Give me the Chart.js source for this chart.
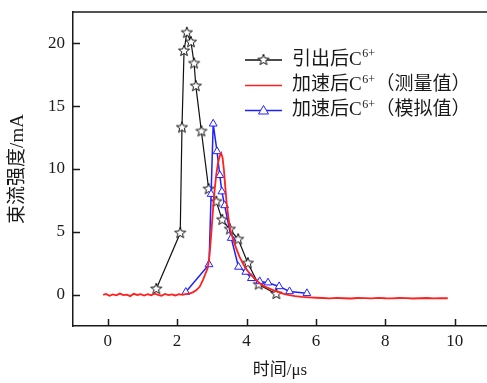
<!DOCTYPE html>
<html>
<head>
<meta charset="utf-8">
<script src="https://cdn.jsdelivr.net/npm/chart.js@4"></script>
<style>
html, body { margin: 0; padding: 0; background: #fff; }
canvas { display: block; }
</style>
</head>
<body>
<canvas id="chart" width="487" height="383"></canvas>
<script>
// 引出后C6+ (stars)
const extractT = [1.40, 2.09, 2.14, 2.20, 2.28, 2.40, 2.49, 2.54, 2.70, 2.91, 3.13, 3.30, 3.52, 3.76, 4.04, 4.35, 4.86];
const extractV = [0.45, 4.9, 13.3, 19.4, 20.85, 20.1, 18.4, 16.6, 13.0, 8.4, 7.4, 5.95, 5.2, 4.4, 2.5, 0.8, 0.05];

// 加速后C6+ 测量值 (red line)
const measT = [-0.13, -0.05, 0.05, 0.15, 0.25, 0.35, 0.45, 0.55, 0.65, 0.75, 0.85, 0.95, 1.05, 1.15, 1.25, 1.35, 1.45, 1.55, 1.65, 1.75, 1.85, 1.95, 2.05, 2.15,
  2.25, 2.35, 2.45, 2.55, 2.65, 2.75, 2.82, 2.88, 2.93, 2.98, 3.03, 3.08, 3.13, 3.18, 3.23, 3.27, 3.31, 3.35, 3.39, 3.43, 3.48, 3.53, 3.60, 3.70, 3.80, 3.90, 4.00,
  4.15, 4.30, 4.45, 4.60, 4.75, 4.90, 5.05, 5.20, 5.40, 5.60, 5.80, 6.00,
  6.2, 6.4, 6.6, 6.8, 7.0, 7.2, 7.4, 7.6, 7.8, 8.0, 8.2, 8.4, 8.6, 8.8, 9.0, 9.2, 9.4, 9.6, 9.8];
const measV = [-0.02, 0.05, -0.10, 0.02, -0.06, 0.08, -0.04, 0.00, -0.12, 0.06, -0.03, 0.04, -0.08, 0.03, -0.05, 0.07, -0.02, -0.09, 0.05, -0.04, 0.02, -0.07, 0.04, -0.02,
  0.03, 0.08, 0.18, 0.35, 0.62, 1.2, 1.7, 2.1, 3.0, 4.7, 6.6, 8.3, 9.6, 10.5, 11.05, 11.25, 10.9, 9.9, 8.5, 7.2, 6.1, 5.2, 4.5, 3.7, 3.0, 2.45, 2.0,
  1.5, 1.1, 0.75, 0.55, 0.38, 0.22, 0.08, -0.02, -0.12, -0.18, -0.22, -0.25,
  -0.27, -0.30, -0.26, -0.29, -0.31, -0.27, -0.28, -0.30, -0.26, -0.29, -0.30, -0.27, -0.28, -0.31, -0.29, -0.27, -0.30, -0.28, -0.29];

// 加速后C6+ 模拟值 (blue triangles)
const simT = [2.25, 2.92, 2.98, 3.04, 3.15, 3.23, 3.29, 3.37, 3.56, 3.77, 3.98, 4.14, 4.38, 4.62, 4.94, 5.24, 5.74];
const simV = [0.2, 2.4, 8.0, 13.6, 11.4, 9.5, 8.2, 7.1, 4.5, 2.2, 1.8, 1.3, 1.05, 0.95, 0.65, 0.25, 0.1];

const xTicks = [0, 2, 4, 6, 8, 10];
const yTicks = [0, 5, 10, 15, 20];

const FONT = '"Liberation Serif", "Noto Sans CJK SC", serif';
const INK = '#1a1a1a';
const RED = '#ff2020';
const BLUE = '#2020ff';

function pts(xs, ys) {
    return xs.map((x, i) => ({ x: x, y: ys[i] }));
}

function makeStar(r) {
    const c = document.createElement('canvas');
    const s = Math.ceil(r * 2 + 4);
    c.width = c.height = s;
    const g = c.getContext('2d');
    g.beginPath();
    for (let i = 0; i < 10; i++) {
        const a = -Math.PI / 2 + i * Math.PI / 5;
        const rr = i % 2 === 0 ? r : r * 0.42;
        g.lineTo(s / 2 + rr * Math.cos(a), s / 2 + rr * Math.sin(a));
    }
    g.closePath();
    g.fillStyle = '#fff';
    g.fill();
    g.strokeStyle = '#111';
    g.lineWidth = 1;
    g.stroke();
    return c;
}
const starImg = makeStar(5.8);

function noPad(s) {
    s.paddingTop = 0;
    s.paddingBottom = 0;
    s.paddingLeft = 0;
    s.paddingRight = 0;
}

// inward ticks, top frame line and the legend inside the plot
const decor = {
    id: 'decor',
    afterDraw(chart) {
        const ctx = chart.ctx;
        const { left, right, top, bottom } = chart.chartArea;
        const xs = chart.scales.x, ys = chart.scales.y;
        ctx.save();
        ctx.strokeStyle = INK;
        ctx.lineWidth = 1.5;
        ctx.beginPath();
        ctx.moveTo(left, top);
        ctx.lineTo(right, top);
        xs.ticks.forEach(t => {
            const px = Math.round(xs.getPixelForValue(t.value)) + 0.5;
            ctx.moveTo(px, bottom);
            ctx.lineTo(px, bottom - 7);
        });
        ys.ticks.forEach(t => {
            const py = Math.round(ys.getPixelForValue(t.value)) + 0.5;
            ctx.moveTo(left, py);
            ctx.lineTo(left + 7, py);
        });
        ctx.stroke();

        // legend
        const rows = [
            { pre: '引出后C', tail: '', color: '#111', marker: 'star', y: 60 },
            { pre: '加速后C', tail: '（测量值）', color: RED, marker: null, y: 85.5 },
            { pre: '加速后C', tail: '（模拟值）', color: BLUE, marker: 'tri', y: 110.5 }
        ];
        rows.forEach(r => {
            ctx.strokeStyle = r.color;
            ctx.lineWidth = 1.6;
            ctx.beginPath();
            ctx.moveTo(245, r.y);
            ctx.lineTo(282, r.y);
            ctx.stroke();
            if (r.marker === 'star') {
                ctx.drawImage(starImg, 263.5 - starImg.width / 2, r.y - starImg.height / 2);
            } else if (r.marker === 'tri') {
                ctx.beginPath();
                ctx.moveTo(263.5, r.y - 5);
                ctx.lineTo(268.5, r.y + 3.5);
                ctx.lineTo(258.5, r.y + 3.5);
                ctx.closePath();
                ctx.fillStyle = '#fff';
                ctx.fill();
                ctx.lineWidth = 1;
                ctx.stroke();
            }
            ctx.fillStyle = INK;
            ctx.textBaseline = 'middle';
            ctx.font = '19px ' + FONT;
            let x = 292;
            ctx.fillText(r.pre, x, r.y);
            x += ctx.measureText(r.pre).width;
            ctx.font = '12px ' + FONT;
            ctx.fillText('6+', x + 0.5, r.y - 6);
            x += ctx.measureText('6+').width + 1;
            ctx.font = '19px ' + FONT;
            ctx.fillText(r.tail, x, r.y);
        });
        ctx.restore();
    }
};

new Chart(document.getElementById('chart'), {
    type: 'line',
    data: {
        datasets: [
            {
                label: '加速后C6+(测量值)',
                data: pts(measT, measV),
                borderColor: RED,
                borderWidth: 1.8,
                pointRadius: 0,
                tension: 0
            },
            {
                label: '加速后C6+(模拟值)',
                data: pts(simT, simV),
                borderColor: BLUE,
                borderWidth: 1.5,
                pointStyle: 'triangle',
                pointRadius: 4.5,
                pointBorderWidth: 1,
                pointBorderColor: BLUE,
                pointBackgroundColor: '#fff',
                tension: 0
            },
            {
                label: '引出后C6+',
                data: pts(extractT, extractV),
                borderColor: '#111',
                borderWidth: 1.2,
                pointStyle: starImg,
                tension: 0
            }
        ]
    },
    options: {
        responsive: false,
        animation: false,
        layout: { autoPadding: false, padding: { top: 12, right: 0, left: 0, bottom: 0 } },
        plugins: {
            legend: { display: false },
            tooltip: { enabled: false }
        },
        scales: {
            x: {
                type: 'linear',
                min: -1,
                max: 10.93,
                afterBuildTicks: s => { s.ticks = xTicks.map(v => ({ value: v })); },
                afterFit: s => { s.height = 57; noPad(s); },
                grid: { drawOnChartArea: false, drawTicks: false },
                border: { display: true, color: INK, width: 1.5 },
                ticks: { color: INK, font: { family: FONT, size: 17 }, padding: 5, maxRotation: 0 },
                title: { display: true, text: '时间/μs', color: INK, font: { family: FONT, size: 17 }, padding: { top: 0, bottom: 2 } }
            },
            y: {
                min: -2.5,
                max: 22.5,
                afterBuildTicks: s => { s.ticks = yTicks.map(v => ({ value: v })); },
                afterFit: s => { s.width = 73; noPad(s); },
                grid: { drawOnChartArea: false, drawTicks: false },
                border: { display: true, color: INK, width: 1.5 },
                ticks: { color: INK, font: { family: FONT, size: 17 }, padding: 8 },
                title: { display: true, text: '束流强度/mA', color: INK, font: { family: FONT, size: 19 }, padding: { top: 7, bottom: 0 } }
            }
        }
    },
    plugins: [decor]
});
</script>
</body>
</html>
